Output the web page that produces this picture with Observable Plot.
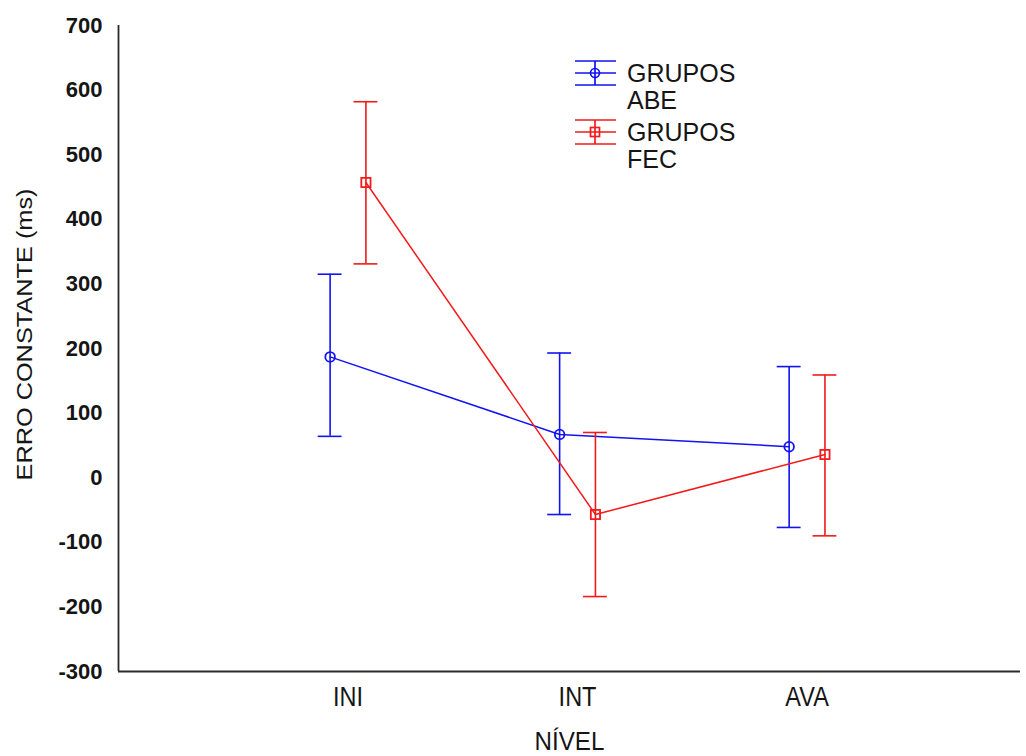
<!DOCTYPE html>
<html>
<head>
<meta charset="utf-8">
<script src="https://cdn.jsdelivr.net/npm/d3@7"></script>
<script src="https://cdn.jsdelivr.net/npm/@observablehq/plot@0.6"></script>
<style>
  html, body { margin: 0; padding: 0; background: #fff; }
  #wrap { position: relative; width: 1026px; height: 756px; }
  #legend { position: absolute; left: 0; top: 0; pointer-events: none; }
</style>
</head>
<body>
<div id="wrap"></div>
<script>
// ---- data ----
const categories = ["INI", "INT", "AVA"];
const categoryPos = [1, 2, 3];
const groupLabels = [["GRUPOS", "ABE"], ["GRUPOS", "FEC"]];
const abeMean = [187, 67, 48];
const abeLow = [64, -57, -77];
const abeHigh = [315, 193, 172];
const fecMean = [457, -57, 36];
const fecLow = [331, -184, -90];
const fecHigh = [582, 70, 159];
const yTicks = [-300, -200, -100, 0, 100, 200, 300, 400, 500, 600, 700];

const offset = 0.078;   // dodge of the two groups, in category units
const capHalf = 0.052;  // half-width of error-bar caps, in category units

function rows(mean, low, high, dx) {
  return categories.map((c, i) => ({
    cat: c, x: categoryPos[i] + dx, mean: mean[i], low: low[i], high: high[i]
  }));
}
const abe = rows(abeMean, abeLow, abeHigh, -offset);
const fec = rows(fecMean, fecLow, fecHigh, offset);
const blue = "#1212f2";
const red = "#f21a1a";
const font = "'Liberation Sans', Arial, sans-serif";

function seriesMarks(data, color, symbol, r) {
  return [
    Plot.ruleX(data, {x: "x", y1: "low", y2: "high", stroke: color, strokeWidth: 1.6}),
    Plot.ruleY(data, {y: "low", x1: d => d.x - capHalf, x2: d => d.x + capHalf, stroke: color, strokeWidth: 1.6}),
    Plot.ruleY(data, {y: "high", x1: d => d.x - capHalf, x2: d => d.x + capHalf, stroke: color, strokeWidth: 1.6}),
    Plot.line(data, {x: "x", y: "mean", stroke: color, strokeWidth: 1.5}),
    Plot.dot(data, {x: "x", y: "mean", symbol, r, stroke: color, strokeWidth: 1.8, fill: "none"})
  ];
}

const chart = Plot.plot({
  width: 1026,
  height: 756,
  marginLeft: 118,
  marginRight: 6,
  marginTop: 25,
  marginBottom: 85,
  style: {fontFamily: font, background: "#fff", overflow: "visible"},
  x: {domain: [0, 3.93]},
  y: {domain: [-300, 700]},
  marks: [
    Plot.axisY({
      ticks: yTicks, tickSize: 0, tickPadding: 16, fontSize: 22, fontWeight: "bold",
      tickFormat: d => String(d), label: null, fill: "#151515"
    }),
    Plot.text(["ERRO CONSTANTE (ms)"], {
      frameAnchor: "left", textAnchor: "middle", dx: -94, dy: -14, rotate: -90,
      fontSize: 22, fill: "#151515", className: "ylab", text: d => d
    }),
    Plot.axisX({
      ticks: categoryPos, tickFormat: d => categories[d - 1], tickSize: 0, tickPadding: 15,
      fontSize: 27, label: null, fill: "#151515", className: "condx"
    }),
    Plot.text(["NÍVEL"], {
      frameAnchor: "bottom", dy: 78, fontSize: 26, fill: "#151515", className: "xlab", text: d => d
    }),
    Plot.ruleX([0], {stroke: "#2a2a2a", strokeWidth: 1.8}),
    Plot.ruleY([-300], {stroke: "#2a2a2a", strokeWidth: 1.8}),
    ...seriesMarks(abe, blue, "circle", 4.8),
    ...seriesMarks(fec, red, "square", 5.2)
  ]
});

const wrap = document.getElementById("wrap");
wrap.appendChild(chart);

// narrow the condensed-looking texts
function squeeze(sel, fn) {
  chart.querySelectorAll(sel).forEach(t => {
    const len = t.getComputedTextLength();
    t.setAttribute("textLength", fn(len));
    t.setAttribute("lengthAdjust", "spacingAndGlyphs");
  });
}
squeeze("g.condx text", l => l * 0.87);
squeeze("g.xlab text", l => l * 0.93);
squeeze("g.ylab text", l => 292);

// legend (SVG overlay)
const lg = d3.create("svg").attr("id", "legend").attr("width", 1026).attr("height", 756)
  .attr("font-family", font).attr("font-size", 25).attr("fill", "#151515");
const entries = [
  {color: blue, symbol: "circle", cy: 73, label: groupLabels[0]},
  {color: red, symbol: "square", cy: 132, label: groupLabels[1]}
];
for (const e of entries) {
  const g = lg.append("g").attr("stroke", e.color).attr("stroke-width", 1.7).attr("fill", "none");
  for (const dy of [-12, 0, 12]) g.append("line").attr("x1", 575).attr("x2", 616).attr("y1", e.cy + dy).attr("y2", e.cy + dy);
  g.append("line").attr("x1", 595).attr("x2", 595).attr("y1", e.cy - 12).attr("y2", e.cy + 12);
  if (e.symbol === "circle") g.append("circle").attr("cx", 595).attr("cy", e.cy).attr("r", 4.5);
  else g.append("rect").attr("x", 590.5).attr("y", e.cy - 4.5).attr("width", 9).attr("height", 9);
  lg.append("text").attr("x", 627).attr("y", e.cy + 8.5).text(e.label[0]);
  lg.append("text").attr("x", 627).attr("y", e.cy + 36).text(e.label[1]);
}
wrap.appendChild(lg.node());
</script>
</body>
</html>
